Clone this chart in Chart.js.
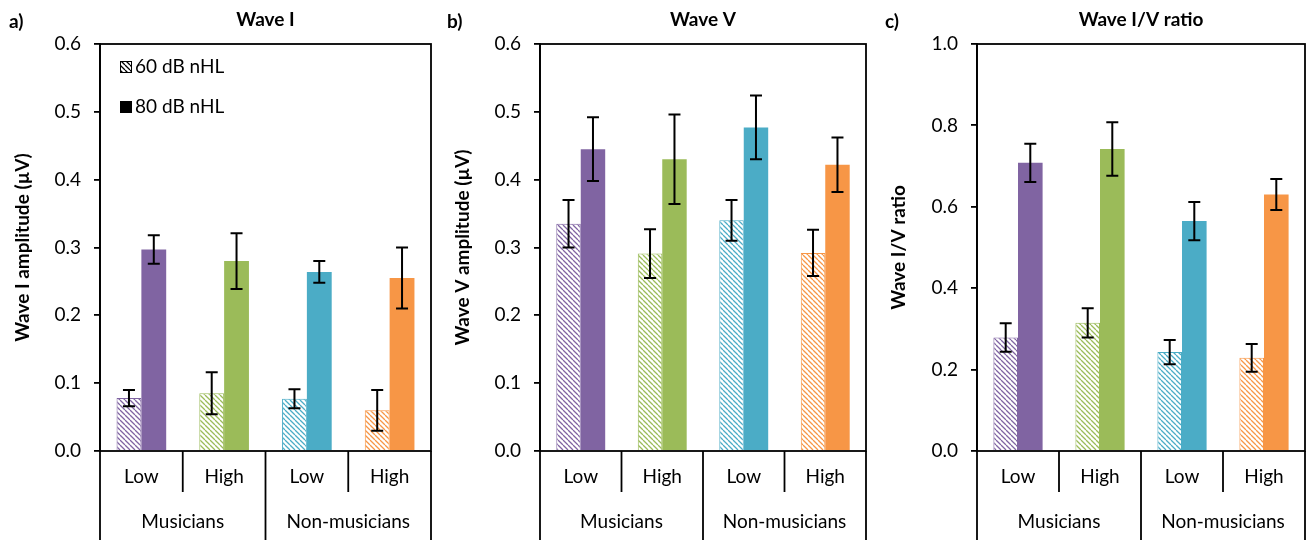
<!DOCTYPE html>
<html>
<head>
<meta charset="utf-8">
<script src="https://cdn.jsdelivr.net/npm/chart.js@4/dist/chart.umd.min.js"></script>
<style>
  body { margin: 0; background: #fff; }
  .row { display: flex; width: 1314px; height: 540px; }
  .panel { position: relative; width: 438px; height: 540px; }
</style>
</head>
<body>
<div class="row">
  <div class="panel"><canvas id="chartA"></canvas></div>
  <div class="panel"><canvas id="chartB"></canvas></div>
  <div class="panel"><canvas id="chartC"></canvas></div>
</div>
<script>
// categories
const levels = ['Low', 'High', 'Low', 'High'];
const groups = ['Musicians', 'Non-musicians'];
const colors = ['#8064A2', '#9BBB59', '#4BACC6', '#F79646'];
const legendLabels = ['60 dB nHL', '80 dB nHL'];

// Wave I amplitude (uV)
const waveI60 = [0.078, 0.085, 0.077, 0.060];
const waveI60Err = [0.012, 0.031, 0.014, 0.030];
const waveI80 = [0.297, 0.280, 0.264, 0.255];
const waveI80Err = [0.021, 0.041, 0.016, 0.045];

// Wave V amplitude (uV)
const waveV60 = [0.335, 0.291, 0.340, 0.292];
const waveV60Err = [0.035, 0.036, 0.030, 0.034];
const waveV80 = [0.445, 0.430, 0.477, 0.422];
const waveV80Err = [0.047, 0.066, 0.047, 0.040];

// Wave I/V ratio
const ratio60 = [0.279, 0.315, 0.243, 0.229];
const ratio60Err = [0.035, 0.036, 0.030, 0.034];
const ratio80 = [0.708, 0.742, 0.565, 0.630];
const ratio80Err = [0.047, 0.066, 0.047, 0.038];

const FONT = 'Lato';

// diagonal hatch pattern for the 60 dB bars
function hatch(color) {
    const c = document.createElement('canvas');
    c.width = c.height = 5;
    const g = c.getContext('2d');
    g.fillStyle = '#fff';
    g.fillRect(0, 0, 5, 5);
    g.strokeStyle = color;
    g.lineWidth = 1.3;
    g.beginPath();
    for (let k = -1; k <= 1; k++) {
        g.moveTo(0, k * 5);
        g.lineTo(5, 5 + k * 5);
    }
    g.stroke();
    return g.createPattern(c, 'repeat');
}

// error bars, frame, category groups, title
const extras = {
    id: 'extras',
    afterDatasetsDraw(chart) {
        const ctx = chart.ctx;
        const y = chart.scales.y;
        ctx.save();
        ctx.strokeStyle = '#000';
        ctx.lineWidth = 2;
        chart.data.datasets.forEach((ds, i) => {
            const meta = chart.getDatasetMeta(i);
            meta.data.forEach((bar, j) => {
                const hi = y.getPixelForValue(ds.data[j] + ds.errors[j]);
                const lo = y.getPixelForValue(ds.data[j] - ds.errors[j]);
                ctx.beginPath();
                ctx.moveTo(bar.x, hi); ctx.lineTo(bar.x, lo);
                ctx.moveTo(bar.x - 6, hi); ctx.lineTo(bar.x + 6, hi);
                ctx.moveTo(bar.x - 6, lo); ctx.lineTo(bar.x + 6, lo);
                ctx.stroke();
            });
        });
        ctx.restore();
    },
    afterDraw(chart, args, opts) {
        const ctx = chart.ctx;
        const a = chart.chartArea;
        const x = chart.scales.x;
        ctx.save();
        ctx.strokeStyle = '#000';
        ctx.lineWidth = 1.8;
        ctx.strokeRect(a.left, a.top, a.right - a.left, a.bottom - a.top);

        // category separators
        const px = levels.map((_, i) => x.getPixelForValue(i));
        const edges = [a.left, (px[0] + px[1]) / 2, (px[1] + px[2]) / 2, (px[2] + px[3]) / 2, a.right];
        ctx.lineWidth = 1.8;
        edges.forEach((ex, i) => {
            ctx.beginPath();
            ctx.moveTo(ex, a.bottom);
            ctx.lineTo(ex, i % 2 === 0 ? chart.height : a.bottom + 41);
            ctx.stroke();
        });

        ctx.fillStyle = '#000';
        ctx.textAlign = 'center';
        ctx.textBaseline = 'middle';
        ctx.font = '19px ' + FONT;
        ctx.fillText(groups[0], (px[0] + px[1]) / 2, 522);
        ctx.fillText(groups[1], (px[2] + px[3]) / 2, 522);

        // panel title and letter
        ctx.font = 'bold 19px ' + FONT;
        ctx.fillText(opts.title, (a.left + a.right) / 2, 20);
        ctx.textAlign = 'left';
        ctx.fillText(opts.letter, 9, 22);

        // legend (first panel only)
        if (opts.legend) {
            const lx = a.left + 20, ly = [a.top + 23, a.top + 63];
            ctx.font = '19px ' + FONT;
            ly.forEach((yy, i) => {
                ctx.fillStyle = i === 0 ? hatch('#000') : '#000';
                ctx.fillRect(lx, yy - 6, 12, 12);
                ctx.strokeStyle = '#000';
                ctx.lineWidth = 1;
                ctx.strokeRect(lx + 0.5, yy - 5.5, 11, 11);
                ctx.fillStyle = '#000';
                ctx.fillText(legendLabels[i], lx + 15, yy);
            });
        }
        ctx.restore();
    }
};

function makePanel(id, cfg) {
    return new Chart(document.getElementById(id), {
        type: 'bar',
        data: {
            labels: levels,
            datasets: [{
                label: legendLabels[0],
                data: cfg.d60,
                errors: cfg.e60,
                backgroundColor: colors.map(hatch),
                borderColor: colors,
                borderWidth: 1
            }, {
                label: legendLabels[1],
                data: cfg.d80,
                errors: cfg.e80,
                backgroundColor: colors,
                borderWidth: 0
            }]
        },
        options: {
            responsive: true,
            maintainAspectRatio: false,
            animation: false,
            layout: { padding: { left: 0, right: cfg.right, top: 44, bottom: 0 } },
            datasets: { bar: { barPercentage: 1, categoryPercentage: 0.6 } },
            plugins: {
                legend: { display: false },
                tooltip: { enabled: false },
                extras: { title: cfg.title, letter: cfg.letter, legend: cfg.legend }
            },
            scales: {
                x: {
                    ticks: { color: '#000', font: { family: FONT, size: 19 }, padding: 14 },
                    grid: { drawOnChartArea: false, drawTicks: false, display: false },
                    border: { display: false },
                    afterFit: s => { s.height = 89; }
                },
                y: {
                    min: 0,
                    max: cfg.max,
                    ticks: {
                        stepSize: cfg.step,
                        color: '#000',
                        font: { family: FONT, size: 19 },
                        padding: 13,
                        callback: v => v.toFixed(1)
                    },
                    grid: { drawOnChartArea: false, color: '#000', tickLength: 6, lineWidth: 1.8 },
                    border: { color: '#000', width: 1.8 },
                    title: {
                        display: true,
                        text: cfg.yTitle,
                        color: '#000',
                        font: { family: FONT, size: 19, weight: 'bold' },
                        padding: { top: cfg.titlePad, bottom: 0 }
                    },
                    afterFit: s => { s.width = cfg.left; }
                }
            }
        },
        plugins: [extras]
    });
}

makePanel('chartA', {
    d60: waveI60, e60: waveI60Err, d80: waveI80, e80: waveI80Err,
    max: 0.6, step: 0.1, yTitle: 'Wave I amplitude (µV)',
    title: 'Wave I', letter: 'a)', legend: true,
    left: 100, right: 7, titlePad: 11
});
makePanel('chartB', {
    d60: waveV60, e60: waveV60Err, d80: waveV80, e80: waveV80Err,
    max: 0.6, step: 0.1, yTitle: 'Wave V amplitude (µV)',
    title: 'Wave V', letter: 'b)', legend: false,
    left: 102, right: 10, titlePad: 13
});
makePanel('chartC', {
    d60: ratio60, e60: ratio60Err, d80: ratio80, e80: ratio80Err,
    max: 1.0, step: 0.2, yTitle: 'Wave I/V ratio',
    title: 'Wave I/V ratio', letter: 'c)', legend: false,
    left: 101, right: 9, titlePad: 11
});
</script>
</body>
</html>
